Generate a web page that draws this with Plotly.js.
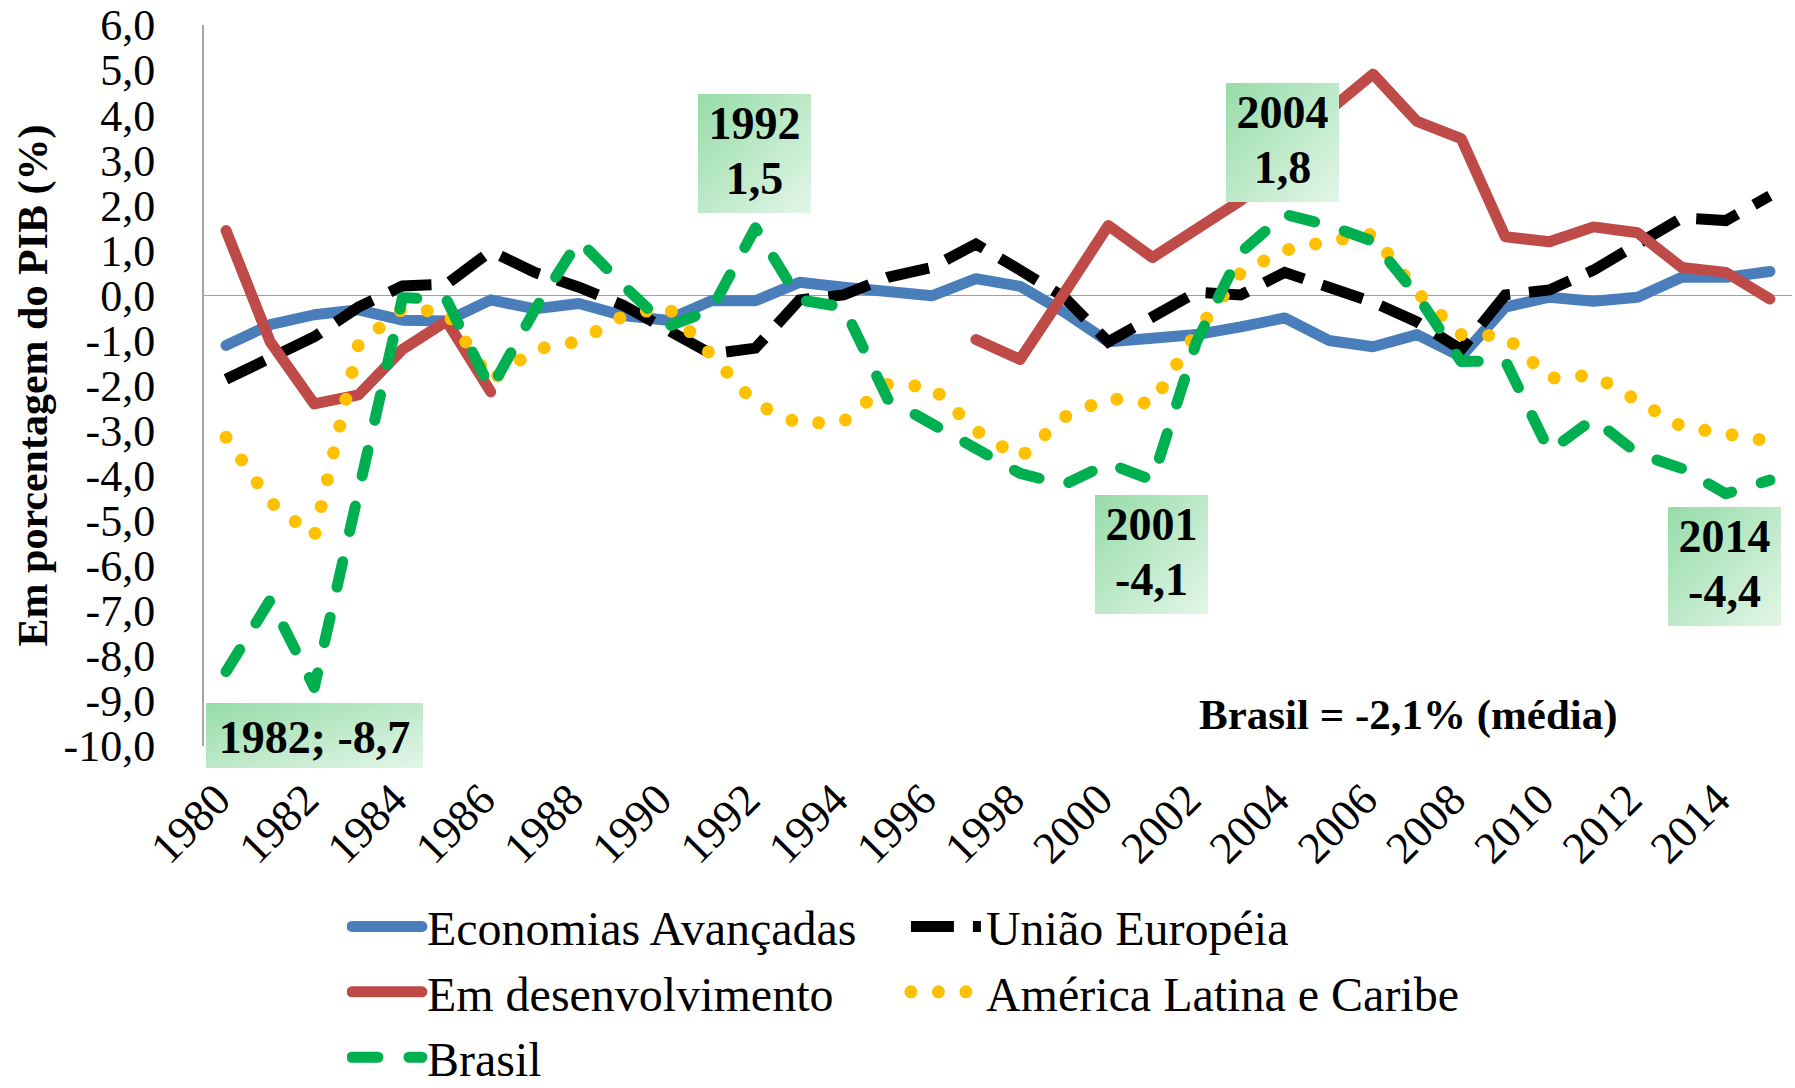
<!DOCTYPE html>
<html>
<head>
<meta charset="utf-8">
<script src="https://cdn.plot.ly/plotly-3.0.1.min.js"></script>
<style>
  html, body { margin: 0; padding: 0; background: #fff; }
  #chart { width: 1795px; height: 1088px; }
</style>
</head>
<body>
<div id="chart"></div>
<script>
// ---- Data (current account balance, % of GDP) ----
const years = [1980,1981,1982,1983,1984,1985,1986,1987,1988,1989,1990,1991,1992,1993,1994,1995,1996,1997,1998,1999,2000,2001,2002,2003,2004,2005,2006,2007,2008,2009,2010,2011,2012,2013,2014,2015];

const economiasAvancadas = [-1.11,-0.65,-0.43,-0.32,-0.55,-0.57,-0.10,-0.30,-0.18,-0.45,-0.55,-0.12,-0.12,0.29,0.18,0.07,-0.01,0.37,0.20,-0.37,-1.03,-0.95,-0.87,-0.70,-0.50,-1.00,-1.14,-0.87,-1.36,-0.26,-0.04,-0.13,-0.04,0.40,0.40,0.53];

const uniaoEuropeia = [-1.86,-1.42,-0.92,-0.26,0.21,0.25,0.98,0.51,0.18,-0.22,-0.76,-1.30,-1.17,-0.10,0.01,0.40,0.62,1.14,0.56,-0.04,-1.03,-0.48,0.07,0.01,0.51,0.18,-0.15,-0.59,-1.20,0.01,0.12,0.56,1.17,1.72,1.66,2.21];

const emDesenvolvimento = [1.44,-1.03,-2.41,-2.21,-1.20,-0.57,-2.14,null,null,null,null,null,null,null,null,null,null,-0.98,-1.42,0.05,1.55,0.84,1.44,2.10,3.00,4.10,4.91,3.86,3.48,1.30,1.19,1.52,1.39,0.62,0.51,-0.08];

const americaLatina = [-3.15,-4.58,-5.35,-1.10,-0.30,-0.37,-1.90,-1.20,-1.02,-0.46,-0.25,-1.34,-2.40,-2.85,-2.80,-1.97,-2.03,-3.00,-3.60,-2.70,-2.28,-2.41,-0.81,0.50,1.00,1.20,1.36,0.07,-0.87,-0.90,-1.84,-1.77,-2.36,-2.91,-3.07,-3.24];

const brasil = [-8.35,-6.76,-8.7,-4.39,-0.05,-0.10,-2.08,-0.32,1.22,0.23,-0.70,-0.32,1.5,-0.10,-0.26,-2.30,-2.85,-3.46,-3.95,-4.20,-3.73,-4.1,-1.03,0.95,1.8,1.55,1.20,0.00,-1.47,-1.45,-3.46,-2.74,-3.51,-3.84,-4.4,-4.10];

const seriesNames = ["Economias Avançadas","União Européia","Em desenvolvimento","América Latina e Caribe","Brasil"];
const tickYears = [1980,1982,1984,1986,1988,1990,1992,1994,1996,1998,2000,2002,2004,2006,2008,2010,2012,2014];
const yTickVals = [-10,-9,-8,-7,-6,-5,-4,-3,-2,-1,0,1,2,3,4,5,6];

// Highlighted Brazil points (years)
const highlightYears = [1982, 1992, 2001, 2004, 2014];
const averageNote = "Brasil = -2,1% (média)";

// ---- Chart ----
const FONT = "Liberation Serif, Times New Roman, serif";
const LW = 11;

function valueOf(year) { return brasil[years.indexOf(year)]; }
function fmt(v) { return v.toFixed(1).replace('.', ','); }

const traces = [
  { x: years, y: economiasAvancadas, name: seriesNames[0], mode: 'lines',
    line: { color: '#4a7ebb', width: LW } },
  { x: years, y: uniaoEuropeia, name: seriesNames[1], mode: 'lines',
    line: { color: '#000000', width: LW, dash: '43px,19px' } },
  { x: years, y: emDesenvolvimento, name: seriesNames[2], mode: 'lines',
    line: { color: '#be4b48', width: LW }, connectgaps: false },
  { x: years, y: americaLatina, name: seriesNames[3], mode: 'lines',
    line: { color: '#ffc000', width: 13, dash: '0px,27.5px' } },
  { x: years, y: brasil, name: seriesNames[4], mode: 'lines',
    line: { color: '#00b050', width: LW, dash: '26px,31px' } }
];

// label boxes (positions in data coordinates, sizes in px)
const labelPos = {
  1982: { x: 1982.0, y: -9.76, w: 217, h: 65, oneLine: true },
  1992: { x: 1991.97, y: 3.15, w: 113, h: 119 },
  2001: { x: 2000.97, y: -5.76, w: 113, h: 119 },
  2004: { x: 2003.96, y: 3.39, w: 113, h: 119 },
  2014: { x: 2013.96, y: -6.02, w: 113, h: 119 }
};

const annotations = highlightYears.map(yr => {
  const p = labelPos[yr];
  const v = valueOf(yr);
  return {
    xref: 'x', yref: 'y', x: p.x, y: p.y,
    xanchor: 'center', yanchor: 'middle', showarrow: false,
    text: p.oneLine ? (yr + '; ' + fmt(v)) : (yr + '<br>' + fmt(v)),
    font: { family: FONT, size: 46, color: '#000', weight: 'bold' },
    bgcolor: '#bfeacb', borderpad: 0, borderwidth: 0,
    width: p.w, height: p.h, align: 'center', valign: 'middle'
  };
});
annotations.push({
  xref: 'x', yref: 'y', x: 2006.8, y: -9.31, xanchor: 'center', yanchor: 'middle',
  showarrow: false, text: averageNote,
  font: { family: FONT, size: 43, color: '#000', weight: 'bold' }
});

const layout = {
  width: 1795, height: 1088,
  margin: { l: 204, r: 3, t: 25, b: 342, pad: 0, autoexpand: false },
  paper_bgcolor: '#ffffff', plot_bgcolor: '#ffffff',
  separators: ',.',
  font: { family: FONT, color: '#000' },
  showlegend: true,
  legend: {
    orientation: 'h', x: 0.090, y: -0.198, xanchor: 'left', yanchor: 'top',
    font: { family: FONT, size: 48, color: '#000' },
    itemwidth: 70, entrywidth: 474, entrywidthmode: 'pixels',
    tracegroupgap: 0, bgcolor: 'rgba(0,0,0,0)', traceorder: 'normal'
  },
  xaxis: {
    range: [1979.5, 2015.5], tickmode: 'array', tickvals: tickYears,
    ticktext: tickYears.map(String), tickangle: -45,
    tickfont: { family: FONT, size: 45, color: '#000' },
    showline: false, showgrid: false, zeroline: false, ticks: '',
    ticklabelstandoff: 17, ticklabelshift: -9, automargin: false, fixedrange: true
  },
  yaxis: {
    range: [-10, 6], tickmode: 'array', tickvals: yTickVals,
    ticktext: yTickVals.map(fmt),
    tickfont: { family: FONT, size: 44, color: '#000' },
    showline: true, linecolor: '#a6a6a6', linewidth: 2,
    showgrid: false, zeroline: true, zerolinecolor: '#a0a0a0', zerolinewidth: 1.5,
    ticks: '', ticklabelstandoff: 38, automargin: false,
    title: { text: 'Em porcentagem do PIB (%)', standoff: 3,
             font: { family: FONT, size: 42, color: '#000', weight: 'bold' } },
    fixedrange: true
  },
  annotations: annotations
};

const gd = document.getElementById('chart');
Plotly.newPlot(gd, traces, layout, { displayModeBar: false, staticPlot: true }).then(() => {
  const NS = 'http://www.w3.org/2000/svg';
  const svg = gd.querySelector('svg.main-svg');
  const defs = document.createElementNS(NS, 'defs');
  const lg = document.createElementNS(NS, 'linearGradient');
  lg.setAttribute('id', 'lblgrad');
  lg.setAttribute('x1', '0'); lg.setAttribute('y1', '0');
  lg.setAttribute('x2', '1'); lg.setAttribute('y2', '1');
  [['0%', '#96dca8'], ['100%', '#e3f6e8']].forEach(([o, c]) => {
    const s = document.createElementNS(NS, 'stop');
    s.setAttribute('offset', o); s.setAttribute('stop-color', c);
    lg.appendChild(s);
  });
  defs.appendChild(lg);
  svg.insertBefore(defs, svg.firstChild);

  gd.querySelectorAll('.annotation').forEach(a => {
    const idx = +a.getAttribute('data-index');
    if (idx < highlightYears.length) {
      const r = a.querySelector('rect.bg');
      if (r) r.style.fill = 'url(#lblgrad)';
      const t = a.querySelector('text');
      const y0 = parseFloat(t.getAttribute('y')) || 0;
      const lines = a.querySelectorAll('text tspan.line');
      if (lines.length > 1) {
        // tighter line spacing for two-line labels, nudged down a bit
        for (let k = 1; k < lines.length; k++) lines[k].setAttribute('dy', '1.2em');
        t.setAttribute('y', y0 + 7);
      } else {
        t.setAttribute('y', y0 + 2);
      }
    }
  });

  const caps = ['round', 'butt', 'round', 'round', 'round'];
  gd.querySelectorAll('.scatterlayer .trace').forEach((t, i) => {
    t.querySelectorAll('path.js-line').forEach(p => {
      p.style.strokeLinecap = caps[i];
      p.style.strokeLinejoin = i === 1 ? 'miter' : 'round';
    });
  });
  gd.querySelectorAll('.legend .traces').forEach((t, i) => {
    t.querySelectorAll('.legendlines path').forEach(p => {
      p.style.strokeLinecap = caps[i];
      p.style.strokeWidth = (i === 3 ? 13 : LW) + 'px';
    });
  });
});
</script>
</body>
</html>
